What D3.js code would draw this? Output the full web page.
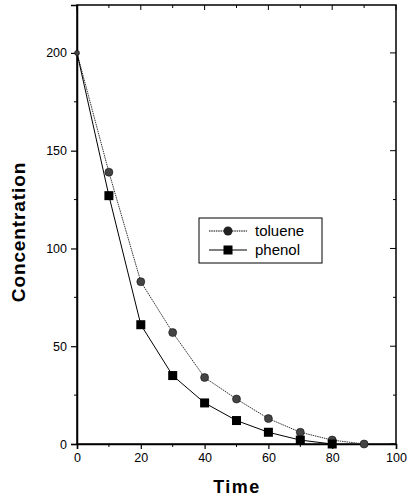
<!DOCTYPE html>
<html>
<head>
<meta charset="utf-8">
<script src="https://cdn.jsdelivr.net/npm/d3@7"></script>
<style>
  body { margin: 0; background: #fff; }
  text { font-family: "Liberation Sans", Arial, sans-serif; }
</style>
</head>
<body>
<div id="chart"></div>
<script>
// data
var times = [0, 10, 20, 30, 40, 50, 60, 70, 80, 90];
var toluene = [200, 139, 83, 57, 34, 23, 13, 6, 2, 0];
var phenolTimes = [0, 10, 20, 30, 40, 50, 60, 70, 80];
var phenol = [200, 127, 61, 35, 21, 12, 6, 2, 0];
var xTicks = [0, 20, 40, 60, 80, 100];
var yTicks = [0, 50, 100, 150, 200];

var W = 410, H = 499;
var margin = {top: 5, right: 14, bottom: 55, left: 77},
    width = W - margin.left - margin.right,
    height = H - margin.top - margin.bottom;

var svg = d3.select("#chart").append("svg")
    .attr("width", W).attr("height", H);

var g = svg.append("g")
    .attr("transform", "translate(" + margin.left + "," + margin.top + ")");

var xScale = d3.scaleLinear().domain([0, 100]).range([0, width]);
var yScale = d3.scaleLinear().domain([0, 224.5]).range([height, 0]);

// frame
g.append("rect")
    .attr("width", width).attr("height", height)
    .attr("fill", "none").attr("stroke", "#000").attr("stroke-width", 1.5);

// axes (outside ticks), mirrored inside on top/right
var xAxis = d3.axisBottom(xScale).tickValues(xTicks).tickSize(5).tickPadding(4);
var yAxis = d3.axisLeft(yScale).tickValues(yTicks).tickSize(6).tickPadding(4);

var gx = g.append("g").attr("transform", "translate(0," + height + ")").call(xAxis);
var gy = g.append("g").call(yAxis);

[gx, gy].forEach(function(a){
    a.select(".domain").attr("stroke-width", 1.5);
    a.selectAll("line").attr("stroke-width", 1.2);
    a.selectAll("text").attr("font-size", 12.5).attr("fill", "#000");
});

// minor ticks
var xMinor = d3.range(10, 100, 20), yMinor = d3.range(25, 225, 50);
g.selectAll(".xminor").data(xMinor).enter().append("line")
    .attr("x1", d => xScale(d)).attr("x2", d => xScale(d))
    .attr("y1", height).attr("y2", height + 3)
    .attr("stroke", "#000");
g.selectAll(".yminor").data(yMinor).enter().append("line")
    .attr("x1", 0).attr("x2", -3)
    .attr("y1", d => yScale(d)).attr("y2", d => yScale(d))
    .attr("stroke", "#000");

// top / right inward ticks
g.selectAll(".xtop").data(xTicks.concat(xMinor)).enter().append("line")
    .attr("x1", d => xScale(d)).attr("x2", d => xScale(d))
    .attr("y1", 0).attr("y2", d => (d % 20 === 0 ? 5 : 3))
    .attr("stroke", "#000");
g.selectAll(".yright").data(yTicks.concat(yMinor)).enter().append("line")
    .attr("x1", width).attr("x2", d => width - (d % 50 === 0 ? 6 : 3))
    .attr("y1", d => yScale(d)).attr("y2", d => yScale(d))
    .attr("stroke", "#000");

// axis titles
svg.append("text")
    .attr("x", 237).attr("y", 493)
    .attr("text-anchor", "middle")
    .attr("font-size", 18).attr("font-weight", "bold")
    .attr("letter-spacing", 1.5)
    .text("Time");

svg.append("text")
    .attr("transform", "translate(25,232) rotate(-90)")
    .attr("text-anchor", "middle")
    .attr("font-size", 19).attr("font-weight", "bold")
    .attr("letter-spacing", 0.9)
    .text("Concentration");

// lines
var line = d3.line()
    .x(d => xScale(d[0]))
    .y(d => yScale(d[1]));

var tolData = times.map((t, i) => [t, toluene[i]]);
var pheData = phenolTimes.map((t, i) => [t, phenol[i]]);

g.append("path").datum(tolData)
    .attr("d", line).attr("fill", "none")
    .attr("stroke", "#333").attr("stroke-width", 1)
    .attr("stroke-dasharray", "1.5,0.8");

g.append("path").datum(pheData)
    .attr("d", line).attr("fill", "none")
    .attr("stroke", "#000").attr("stroke-width", 1);

// markers (the t=0 point is drawn as a small mark in the original)
g.selectAll(".tol").data(tolData).enter().append("circle")
    .attr("cx", d => xScale(d[0])).attr("cy", d => yScale(d[1]))
    .attr("r", d => d[0] === 0 ? 2.5 : 4)
    .attr("fill", "#444").attr("stroke", "#111").attr("stroke-width", 0.6);

g.selectAll(".phe").data(pheData.slice(1)).enter().append("rect")
    .attr("x", d => xScale(d[0]) - 4.5).attr("y", d => yScale(d[1]) - 4.5)
    .attr("width", 9).attr("height", 9)
    .attr("fill", "#000");

// legend
var lg = svg.append("g").attr("transform", "translate(199,218)");
lg.append("rect")
    .attr("width", 123).attr("height", 45)
    .attr("fill", "#fff").attr("stroke", "#000").attr("stroke-width", 1);

var legendItems = [
    {name: "toluene", y: 13, dash: "1.5,0.8", shape: "circle"},
    {name: "phenol", y: 32, dash: null, shape: "square"}
];
legendItems.forEach(function(d){
    lg.append("line")
        .attr("x1", 10).attr("x2", 48)
        .attr("y1", d.y).attr("y2", d.y)
        .attr("stroke", "#000").attr("stroke-width", 1)
        .attr("stroke-dasharray", d.dash);
    if (d.shape === "circle") {
        lg.append("circle").attr("cx", 29).attr("cy", d.y).attr("r", 4.5)
            .attr("fill", "#222");
    } else {
        lg.append("rect").attr("x", 24.5).attr("y", d.y - 4.5)
            .attr("width", 9).attr("height", 9).attr("fill", "#000");
    }
    lg.append("text")
        .attr("x", 56).attr("y", d.y + 5)
        .attr("font-size", 15)
        .text(d.name);
});
</script>
</body>
</html>
